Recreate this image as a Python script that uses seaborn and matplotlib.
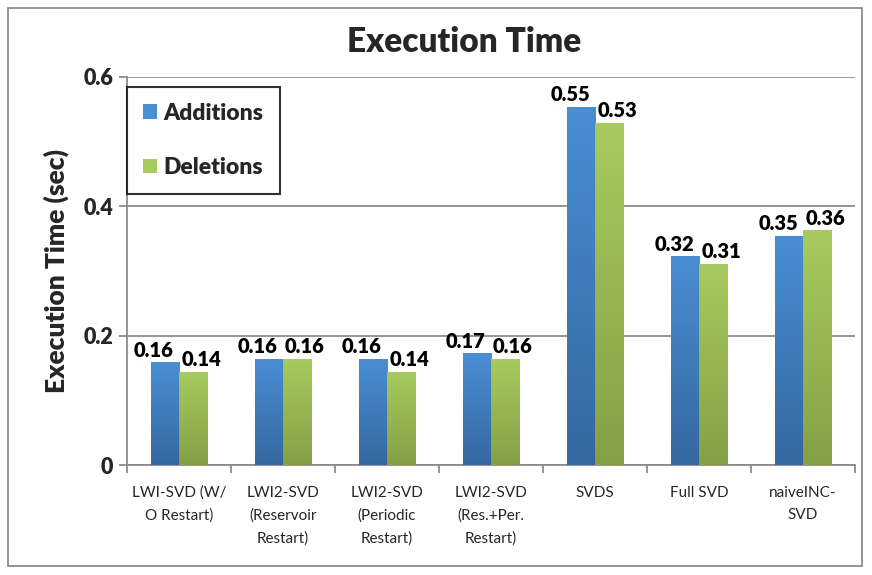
import numpy as np
import pandas as pd
import matplotlib
matplotlib.use("Agg")
import matplotlib.pyplot as plt
import matplotlib.transforms as mtransforms
import seaborn as sns
from matplotlib.patches import Rectangle, Patch

categories = [
    "LWI-SVD (W/\nO Restart)",
    "LWI2-SVD\n(Reservoir\nRestart)",
    "LWI2-SVD\n(Periodic\nRestart)",
    "LWI2-SVD\n(Res.+Per.\nRestart)",
    "SVDS",
    "Full SVD",
    "naiveINC-\nSVD",
]
additions = [0.159, 0.164, 0.164, 0.173, 0.554, 0.323, 0.354]
deletions = [0.144, 0.164, 0.144, 0.164, 0.529, 0.311, 0.363]
series_names = ["Additions", "Deletions"]
y_ticks = [0, 0.2, 0.4, 0.6]
y_tick_labels = ["0", "0.2", "0.4", "0.6"]

df = pd.DataFrame({
    "category": categories * 2,
    "value": additions + deletions,
    "series": [series_names[0]] * len(categories) + [series_names[1]] * len(categories),
})

sns.set_theme(style="white")
plt.rcParams["font.family"] = ["Lato", "DejaVu Sans"]
BOLD = "heavy"

fig = plt.figure(figsize=(8.72, 5.75), dpi=100)
ax = fig.add_axes([127 / 872, 1 - 465 / 575, (855 - 127) / 872, (465 - 77) / 575])

palette = {"Additions": "#4584c8", "Deletions": "#9cc157"}
sns.barplot(data=df, x="category", y="value", hue="series", palette=palette,
            width=0.54, ax=ax, legend=False, saturation=1, edgecolor="none", zorder=3)

# vertical gradient fill for each bar
grad = {
    "Additions": [(0x4a / 255, 0x8e / 255, 0xd3 / 255), (0x35 / 255, 0x68 / 255, 0xa0 / 255)],
    "Deletions": [(0xa8 / 255, 0xca / 255, 0x5e / 255), (0x84 / 255, 0xa0 / 255, 0x46 / 255)],
}
label_shift_px = {"Additions": -11, "Deletions": 8}
n = len(categories)
for i, p in enumerate(ax.patches[: 2 * n]):
    s = series_names[i // n]
    top, bot = grad[s]
    t = np.linspace(0, 1, 256)[:, None, None]
    img = np.array(top)[None, None, :] * (1 - t) + np.array(bot)[None, None, :] * t
    x0, w = p.get_x(), p.get_width()
    h = p.get_height()
    im = ax.imshow(img, extent=[x0, x0 + w, 0, h], aspect="auto", zorder=4, origin="upper")
    im.set_clip_path(p)
    # value label, nudged sideways so neighbouring labels do not collide
    tr = ax.transData + mtransforms.ScaledTranslation(label_shift_px[s] / 100, 0, fig.dpi_scale_trans)
    ax.text(x0 + w / 2, h + 0.004, f"{h:.2f}", ha="center", va="bottom", transform=tr,
            fontsize=14.5, fontweight=BOLD, color="black", zorder=5)

ax.set_xlim(-0.5, n - 0.5)
ax.set_ylim(0, 0.6)
ax.set_yticks(y_ticks)
ax.set_yticklabels(y_tick_labels, fontsize=15.5, fontweight=BOLD)
ax.yaxis.grid(True, color="#8c8c8c", linewidth=1.3, zorder=0)
ax.set_axisbelow(True)

for side in ["top", "right"]:
    ax.spines[side].set_visible(False)
for side in ["left", "bottom"]:
    ax.spines[side].set_color("#8c8c8c")
    ax.spines[side].set_linewidth(1.3)

ax.tick_params(axis="y", which="major", direction="out", length=6, width=1.3,
               color="#8c8c8c", left=True, pad=4)
ax.set_xticks(range(n))
ax.set_xticklabels(categories, fontsize=11, linespacing=1.75, va="top")
ax.tick_params(axis="x", which="major", length=0, pad=15)
ax.set_xticks(np.arange(-0.5, n, 1.0), minor=True)
ax.tick_params(axis="x", which="minor", direction="out", length=6, width=1.3,
               color="#8c8c8c", bottom=True)

ax.set_xlabel("")
ax.set_ylabel("Execution Time (sec)", fontsize=19, fontweight=BOLD, labelpad=10)

fig.text(464 / 872, 1 - 42 / 575, "Execution Time", ha="center", va="center",
         fontsize=24, fontweight=BOLD)

# legend
handles = [Patch(facecolor=grad[s][0], edgecolor="none") for s in series_names]
leg = ax.legend(handles, series_names, loc="upper left", bbox_to_anchor=(0.0, 0.975),
                prop={"size": 16.5, "weight": BOLD}, frameon=True, fancybox=False,
                edgecolor="black", handlelength=0.6, handleheight=0.6,
                handletextpad=0.3, labelspacing=1.45, borderpad=0.7, borderaxespad=0.0)
leg.get_frame().set_linewidth(1.5)
leg.set_zorder(6)

# outer chart border
fig.patches.append(Rectangle((8 / 872, 1 - 566 / 575), (862 - 8) / 872, (566 - 8) / 575,
                             transform=fig.transFigure, fill=False,
                             edgecolor="#8c8c8c", linewidth=1.3))

fig.savefig("out.png", dpi=100)
